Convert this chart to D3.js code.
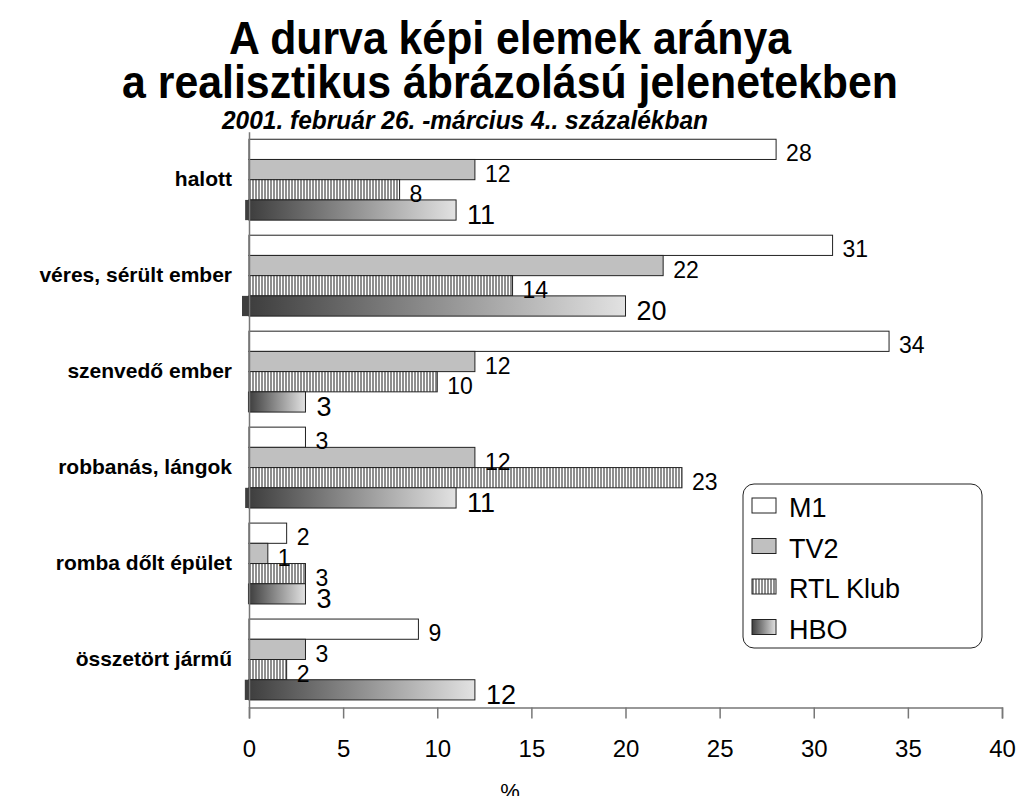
<!DOCTYPE html>
<html>
<head>
<meta charset="utf-8">
<script src="https://cdn.jsdelivr.net/npm/d3@7"></script>
<style>
  body { margin: 0; background: #fff; }
  svg { display: block; font-family: "Liberation Sans", Arial, sans-serif; }
</style>
</head>
<body>
<div id="chart"></div>
<script>
const categories = ["halott", "véres, sérült ember", "szenvedő ember", "robbanás, lángok", "romba dőlt épület", "összetört jármű"];
const seriesNames = ["M1", "TV2", "RTL Klub", "HBO"];
const m1Values = [28, 31, 34, 3, 2, 9];
const tv2Values = [12, 22, 12, 12, 1, 3];
const rtlValues = [8, 14, 10, 23, 3, 2];
const hboValues = [11, 20, 3, 11, 3, 12];
const xTicks = [0, 5, 10, 15, 20, 25, 30, 35, 40];

const width = 1018, height = 796;
const plot = { left: 249, right: 1002, top: 131.7, bottom: 707.5 };

const valuesBySeries = [m1Values, tv2Values, rtlValues, hboValues];
const fills = ["#ffffff", "#c0c0c0", "url(#rtlStripes)", "url(#hboGrad)"];

const svg = d3.select("#chart").append("svg")
  .attr("width", width)
  .attr("height", height);

const defs = svg.append("defs");

const stripes = defs.append("pattern")
  .attr("id", "rtlStripes")
  .attr("patternUnits", "userSpaceOnUse")
  .attr("width", 3)
  .attr("height", 10);
stripes.append("rect").attr("width", 3).attr("height", 10).attr("fill", "#ffffff");
stripes.append("rect").attr("width", 2).attr("height", 10).attr("fill", "#8f8f8f");

const grad = defs.append("linearGradient")
  .attr("id", "hboGrad")
  .attr("x1", 0).attr("x2", 1).attr("y1", 0).attr("y2", 0);
grad.append("stop").attr("offset", 0).attr("stop-color", "#3e3e3e");
grad.append("stop").attr("offset", 1).attr("stop-color", "#e2e2e2");

const x = d3.scaleLinear().domain([0, 40]).range([plot.left, plot.right]);
const y = d3.scaleBand()
  .domain(categories)
  .range([plot.top, plot.bottom])
  .paddingInner(0.157)
  .paddingOuter(0.0787);
const ySub = d3.scaleBand().domain(seriesNames).range([0, y.bandwidth()]);

// titles (the source type is a bit narrower and taller than Liberation Sans)
svg.append("text")
  .attr("x", 510).attr("y", 54)
  .attr("text-anchor", "middle")
  .attr("textLength", 562).attr("lengthAdjust", "spacingAndGlyphs")
  .style("font-size", "46px").style("font-weight", "bold")
  .text("A durva képi elemek aránya");
svg.append("text")
  .attr("x", 510).attr("y", 98)
  .attr("text-anchor", "middle")
  .attr("textLength", 776).attr("lengthAdjust", "spacingAndGlyphs")
  .style("font-size", "46px").style("font-weight", "bold")
  .text("a realisztikus ábrázolású jelenetekben");
svg.append("text")
  .attr("x", 465).attr("y", 129)
  .attr("text-anchor", "middle")
  .attr("textLength", 486).attr("lengthAdjust", "spacingAndGlyphs")
  .style("font-size", "25px").style("font-weight", "bold").style("font-style", "italic")
  .text("2001. február 26. -március 4.. százalékban");

// bars
const rows = [];
categories.forEach((c, i) => {
  seriesNames.forEach((s, j) => {
    rows.push({ cat: c, series: s, si: j, value: valuesBySeries[j][i] });
  });
});

const barG = svg.append("g");

barG.selectAll("rect.cap")
  .data(rows.filter((d) => d.si == 3))
  .join("rect")
  .attr("class", "cap")
  .attr("x", (d) => x(0) - d.value * 0.35)
  .attr("y", (d) => y(d.cat) + ySub(d.series))
  .attr("width", (d) => d.value * 0.35)
  .attr("height", ySub.bandwidth())
  .attr("fill", "#3e3e3e");

barG.selectAll("rect.bar")
  .data(rows)
  .join("rect")
  .attr("class", "bar")
  .attr("x", x(0))
  .attr("y", (d) => y(d.cat) + ySub(d.series))
  .attr("width", (d) => x(d.value) - x(0))
  .attr("height", ySub.bandwidth())
  .attr("fill", (d) => fills[d.si])
  .attr("stroke", "#222")
  .attr("stroke-width", 1);

barG.selectAll("text.val")
  .data(rows)
  .join("text")
  .attr("class", "val")
  .attr("x", (d) => x(d.value) + (d.si == 3 ? 11 : 10))
  .attr("y", (d) => y(d.cat) + ySub(d.series) + ySub.bandwidth() + (d.si == 3 ? 4 : 2))
  .style("font-size", (d) => (d.si == 3 ? "27px" : "23px"))
  .text((d) => d.value);

// axes
const xAxis = svg.append("g")
  .attr("transform", `translate(0,${plot.bottom})`)
  .call(d3.axisBottom(x).tickValues(xTicks).tickSize(11).tickSizeOuter(11).tickPadding(21));
xAxis.selectAll("line").attr("stroke", "#777").attr("stroke-width", 1.5);
xAxis.select(".domain").attr("stroke", "#777").attr("stroke-width", 1.5);
xAxis.selectAll("text")
  .style("font-size", "24px")
  .style("font-family", "\"Liberation Sans\", Arial, sans-serif")
  .attr("fill", "#000");

const yAxis = svg.append("g")
  .attr("transform", `translate(${plot.left},0)`)
  .call(d3.axisLeft(y).tickSize(0).tickPadding(17));
yAxis.select(".domain").attr("stroke", "#777").attr("stroke-width", 1.5);
yAxis.selectAll("text")
  .style("font-size", "21px")
  .style("font-weight", "bold")
  .style("font-family", "\"Liberation Sans\", Arial, sans-serif")
  .attr("fill", "#000");

svg.append("text")
  .attr("x", 510).attr("y", 799)
  .attr("text-anchor", "middle")
  .style("font-size", "22px")
  .text("%");

// legend
const legend = svg.append("g").attr("transform", "translate(743,484)");
legend.append("rect")
  .attr("width", 239).attr("height", 164)
  .attr("rx", 11).attr("ry", 11)
  .attr("fill", "#fff").attr("stroke", "#222").attr("stroke-width", 1);

const items = legend.selectAll("g.item")
  .data(seriesNames)
  .join("g")
  .attr("class", "item")
  .attr("transform", (d, i) => `translate(9,${14 + i * 40.5})`);
items.append("rect")
  .attr("width", 24).attr("height", 15)
  .attr("fill", (d, i) => fills[i])
  .attr("stroke", "#222");
items.append("text")
  .attr("x", 37).attr("y", 19)
  .style("font-size", "27px")
  .text((d) => d);
</script>
</body>
</html>
